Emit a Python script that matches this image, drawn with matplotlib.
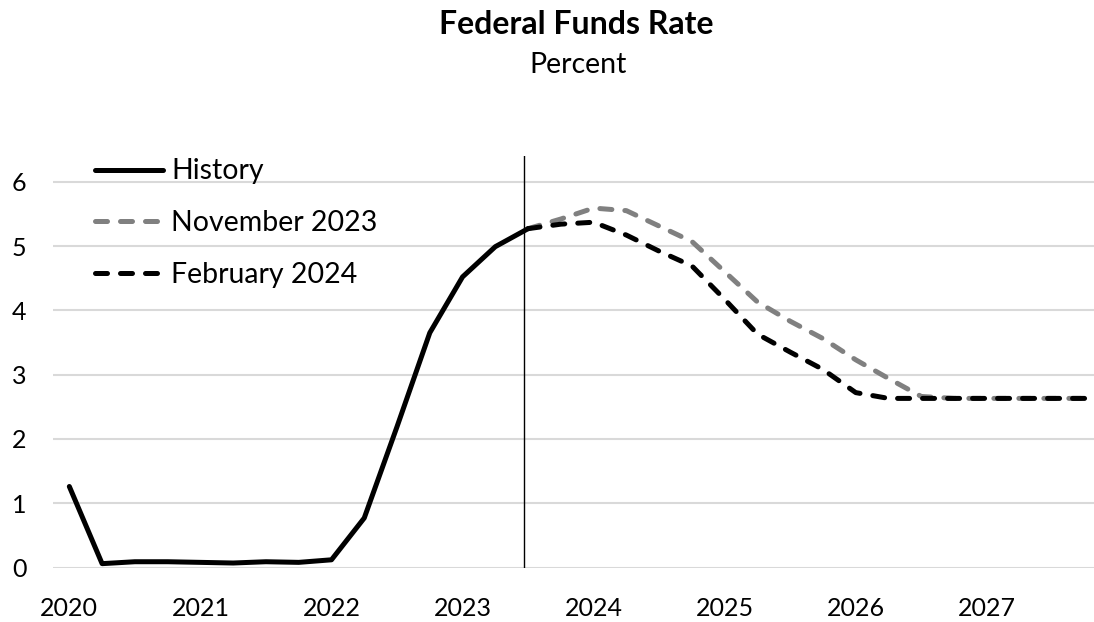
"""Federal Funds Rate: history and two projections (quarterly, percent)."""
import numpy as np
import pandas as pd
import matplotlib.pyplot as plt

quarters = pd.period_range("2020Q1", "2027Q4", freq="Q")

history = [1.26, 0.06, 0.09, 0.09, 0.08, 0.07, 0.09, 0.08,
           0.12, 0.77, 2.19, 3.65, 4.52, 4.99, 5.27]
nov_2023 = [5.27, 5.42, 5.59, 5.55, 5.31, 5.07, 4.60, 4.13, 3.83,
            3.56, 3.23, 2.94, 2.66, 2.63, 2.63, 2.63, 2.63, 2.63]
feb_2024 = [5.27, 5.34, 5.37, 5.17, 4.92, 4.69, 4.17, 3.63, 3.35,
            3.08, 2.72, 2.63, 2.63, 2.63, 2.63, 2.63, 2.63, 2.63]
forecast_line = 13.86          # quarter index where the vertical marker sits
year_labels = [str(y) for y in range(2020, 2028)]

x = np.arange(len(quarters))
x_hist = x[:len(history)]
x_fc = x[len(history) - 1:]

plt.rcParams["font.family"] = ["Lato", "DejaVu Sans"]

fig = plt.figure(figsize=(10.94, 6.22), dpi=100)
ax = fig.add_axes([0.0484, 0.0876, 0.9516, 0.6616])

dash = dict(lw=3.6, dashes=(2.4, 2.6), dash_capstyle="round")
ax.plot(x_fc, nov_2023, color="#808080", label="November 2023", **dash)
ax.plot(x_fc, feb_2024, color="black", label="February 2024", **dash)
ax.plot(x_hist, history, color="black", lw=3.6, solid_capstyle="round",
        solid_joinstyle="round", label="History")
ax.axvline(forecast_line, color="black", lw=1)

ax.set_xlim(-0.5, 31.27)
ax.set_ylim(0, 6.4)
ax.set_yticks(range(0, 7))
ax.set_xticks(x[::4])
ax.set_xticklabels(year_labels)
ax.tick_params(length=0, labelsize=18)
ax.tick_params(axis="y", pad=19)
ax.tick_params(axis="x", pad=21)
ax.grid(axis="y", color="#d9d9d9", lw=1.5)
ax.set_axisbelow(True)
for s in ax.spines.values():
    s.set_visible(False)

h, l = ax.get_legend_handles_labels()
order = [2, 0, 1]
ax.legend([h[i] for i in order], [l[i] for i in order], loc="upper left",
          bbox_to_anchor=(0.04, 0.994), frameon=False, fontsize=20.5,
          borderpad=0, borderaxespad=0,
          handlelength=2.4, handletextpad=0.3, labelspacing=0.9)

fig.text(0.527, 1 - 25 / 622, "Federal Funds Rate", ha="center", va="center",
         fontsize=23, weight="bold")
fig.text(0.528, 1 - 65 / 622, "Percent", ha="center", va="center", fontsize=20.5)

fig.savefig("out.png", dpi=100)
